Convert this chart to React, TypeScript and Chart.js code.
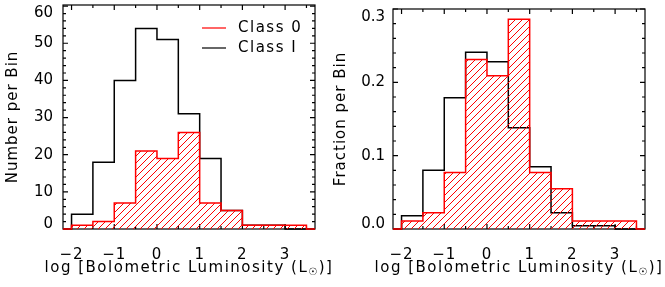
import React, { useEffect, useRef } from 'react';
import { Chart, registerables } from 'chart.js';

Chart.register(...registerables);

// ---- data ----
const binEdges = [-2, -1.5, -1, -0.5, 0, 0.5, 1, 1.5, 2, 2.5, 3, 3.5];
const class0Counts = [1, 2, 7, 21, 19, 26, 7, 5, 1, 1, 1];
const class1Counts = [4, 18, 40, 54, 51, 31, 19, 5, 1, 1, 0];
const class0Fractions = [0.011, 0.022, 0.077, 0.231, 0.209, 0.286, 0.077, 0.055, 0.011, 0.011, 0.011];
const class1Fractions = [0.018, 0.08, 0.179, 0.241, 0.228, 0.138, 0.085, 0.022, 0.0045, 0.0045, 0];
const xTickValues = [-2, -1, 0, 1, 2, 3];
const xMinorTickValues = [-1.5, -0.5, 0.5, 1.5, 2.5, 3.5];
const countTickValues = [0, 10, 20, 30, 40, 50, 60];
const fractionTickValues = [0, 0.1, 0.2, 0.3];
const legendLabels = ['Class 0', 'Class I'];
const xTitleParts = ['log [Bolometric Luminosity (L', '\u2609', ')]'];
const countTitle = 'Number per Bin';
const fractionTitle = 'Fraction per Bin';

const FONT = '"DejaVu Sans", "Liberation Sans", sans-serif';
const X_MIN = -2.2;
const X_MAX = 3.7;
const RED = '#ff0000';

function stepPoints(values: number[]) {
  const pts: { x: number; y: number }[] = [{ x: X_MIN, y: 0 }];
  values.forEach((v, i) => pts.push({ x: binEdges[i], y: v }));
  pts.push({ x: binEdges[binEdges.length - 1], y: 0 });
  pts.push({ x: X_MAX, y: 0 });
  return pts;
}

const idlFrame = {
  id: 'idlFrame',
  beforeDraw(chart: any) {
    (chart.ctx as any).letterSpacing = '1px';
  },
  beforeDatasetsDraw(chart: any, _args: any, opts: any) {
    const { ctx, chartArea: a, scales } = chart;
    const x = scales.x;
    const y = scales.y;
    ctx.save();
    ctx.strokeStyle = '#000';
    ctx.lineWidth = 1.2;
    ctx.strokeRect(a.left, a.top, a.right - a.left, a.bottom - a.top);
    ctx.beginPath();
    const vt = (px: number, len: number) => {
      ctx.moveTo(px, a.bottom);
      ctx.lineTo(px, a.bottom - len);
      ctx.moveTo(px, a.top);
      ctx.lineTo(px, a.top + len);
    };
    const ht = (py: number, len: number) => {
      ctx.moveTo(a.left, py);
      ctx.lineTo(a.left + len, py);
      ctx.moveTo(a.right, py);
      ctx.lineTo(a.right - len, py);
    };
    xTickValues.forEach((v) => vt(x.getPixelForValue(v), 5));
    xMinorTickValues.forEach((v) => {
      if (v < X_MAX) vt(x.getPixelForValue(v), 3);
    });
    const majors: number[] = opts.yTicks;
    majors.forEach((v) => ht(y.getPixelForValue(v), 5));
    const step = opts.minorStep;
    for (let k = 0; k * step <= y.max + 1e-9; k++) {
      const v = k * step;
      if (majors.some((m) => Math.abs(m - v) < 1e-9)) continue;
      ht(y.getPixelForValue(v), 3);
    }
    ctx.stroke();
    ctx.restore();
  },
  beforeDatasetDraw(chart: any, args: any) {
    if (args.index !== 0) return;
    const { ctx, chartArea: a, scales } = chart;
    const pts = chart.getDatasetMeta(0).data;
    if (!pts.length) return;
    const base = scales.y.getPixelForValue(0);
    ctx.save();
    ctx.beginPath();
    ctx.moveTo(pts[0].x, base);
    for (let i = 1; i < pts.length; i++) {
      ctx.lineTo(pts[i].x, pts[i - 1].y);
      ctx.lineTo(pts[i].x, pts[i].y);
    }
    ctx.lineTo(pts[pts.length - 1].x, base);
    ctx.closePath();
    ctx.clip();
    ctx.strokeStyle = RED;
    ctx.lineWidth = 1;
    const h = a.bottom - a.top;
    ctx.beginPath();
    for (let c = a.left - h; c < a.right + h; c += 7) {
      ctx.moveTo(c, a.bottom);
      ctx.lineTo(c + h, a.top);
    }
    ctx.stroke();
    ctx.restore();
  },
  afterDraw(chart: any, _args: any, opts: any) {
    const { ctx, chartArea: a, scales } = chart;
    const big = '15px ' + FONT;
    const small = '10px ' + FONT;
    ctx.save();
    ctx.fillStyle = '#000';

    // y tick labels (kept inside the frame's vertical extent, as in the reference)
    (ctx as any).letterSpacing = '0px';
    ctx.font = big;
    ctx.textAlign = 'right';
    ctx.textBaseline = 'middle';
    (opts.yTicks as number[]).forEach((v) => {
      let py = scales.y.getPixelForValue(v);
      py = Math.max(a.top + 8, Math.min(a.bottom - 4.5, py));
      ctx.fillText(v.toFixed(opts.decimals), a.left - opts.yLabelPad, py);
    });

    // x title with subscript sun symbol
    (ctx as any).letterSpacing = '1.5px';
    ctx.font = big;
    const w0 = ctx.measureText(xTitleParts[0]).width;
    const w2 = ctx.measureText(xTitleParts[2]).width;
    ctx.font = small;
    const w1 = ctx.measureText(xTitleParts[1]).width;
    const total = w0 + w1 + w2;
    let sx = (a.left + a.right) / 2 - total / 2;
    ctx.textBaseline = 'alphabetic';
    ctx.textAlign = 'left';
    ctx.font = big;
    ctx.fillText(xTitleParts[0], sx, 272);
    sx += w0;
    ctx.font = small;
    ctx.fillText(xTitleParts[1], sx, 275);
    sx += w1;
    ctx.font = big;
    ctx.fillText(xTitleParts[2], sx, 272);

    if (opts.legend) {
      const rows = [
        { label: legendLabels[0], color: RED, y: 28 },
        { label: legendLabels[1], color: '#000', y: 48 },
      ];
      rows.forEach((r) => {
        ctx.strokeStyle = r.color;
        ctx.lineWidth = 1.2;
        ctx.beginPath();
        ctx.moveTo(202, r.y);
        ctx.lineTo(226, r.y);
        ctx.stroke();
        ctx.font = big;
        ctx.textBaseline = 'middle';
        ctx.fillStyle = '#000';
        ctx.fillText(r.label, 238, r.y);
      });
    }
    ctx.restore();
    (ctx as any).letterSpacing = '0px';
  },
};

type PanelProps = {
  width: number;
  red: number[];
  black: number[];
  yMax: number;
  yTicks: number[];
  minorStep: number;
  decimals: number;
  yTitle: string;
  padTop: number;
  padRight: number;
  yAxisWidth: number;
  yLabelPad: number;
  yTitlePad: number;
  legend: boolean;
};

function Panel(p: PanelProps) {
  const ref = useRef<HTMLCanvasElement | null>(null);
  useEffect(() => {
    if (!ref.current) return;
    const chart = new Chart(ref.current, {
      type: 'line',
      data: {
        datasets: [
          {
            label: legendLabels[0],
            data: stepPoints(p.red),
            stepped: true,
            borderColor: RED,
            borderWidth: 1.5,
            fill: false,
            pointRadius: 0,
            clip: 4,
          } as any,
          {
            label: legendLabels[1],
            data: stepPoints(p.black),
            stepped: true,
            borderColor: '#000',
            borderWidth: 1.5,
            fill: false,
            pointRadius: 0,
            clip: 4,
          } as any,
        ],
      },
      options: {
        responsive: false,
        animation: false,
        events: [],
        layout: { padding: { top: p.padTop, right: p.padRight, left: 0, bottom: 0 } },
        plugins: {
          legend: { display: false },
          tooltip: { enabled: false },
          idlFrame: {
            yTicks: p.yTicks,
            minorStep: p.minorStep,
            legend: p.legend,
            decimals: p.decimals,
            yLabelPad: p.yLabelPad,
          },
        } as any,
        scales: {
          x: {
            type: 'linear',
            min: X_MIN,
            max: X_MAX,
            grid: { display: false, drawTicks: false },
            border: { display: false },
            afterBuildTicks: (s: any) => {
              s.ticks = xTickValues.map((v) => ({ value: v }));
            },
            afterFit: (s: any) => {
              s.height = 58;
              s.paddingLeft = 0;
              s.paddingRight = 0;
              s.paddingTop = 0;
              s.paddingBottom = 0;
            },
            ticks: {
              padding: 17,
              color: '#000',
              font: { family: FONT, size: 15 },
              maxRotation: 0,
              autoSkip: false,
              callback: (v: any) => String(v).replace('-', '\u2212'),
            },
          },
          y: {
            type: 'linear',
            min: 0,
            max: p.yMax,
            grid: { display: false, drawTicks: false },
            border: { display: false },
            afterBuildTicks: (s: any) => {
              s.ticks = p.yTicks.map((v) => ({ value: v }));
            },
            afterFit: (s: any) => {
              s.width = p.yAxisWidth;
              s.paddingLeft = 0;
              s.paddingRight = 0;
              s.paddingTop = 0;
              s.paddingBottom = 0;
            },
            ticks: { display: false },
            title: {
              display: true,
              text: p.yTitle,
              color: '#000',
              font: { family: FONT, size: 15 },
              padding: { top: p.yTitlePad, bottom: 0 },
            },
          },
        },
      } as any,
      plugins: [idlFrame as any],
    });
    return () => chart.destroy();
  }, []);
  return <canvas ref={ref} width={p.width} height={287} style={{ display: 'block' }} />;
}

export default function App() {
  useEffect(() => {
    document.body.style.margin = '0';
  }, []);
  return (
    <div style={{ display: 'flex', width: 665, height: 287, background: '#fff' }}>
      <Panel
        width={332}
        red={class0Counts}
        black={class1Counts}
        yMax={60.3}
        yTicks={countTickValues}
        minorStep={2}
        decimals={0}
        yTitle={countTitle}
        padTop={5}
        padRight={17}
        yAxisWidth={63}
        yLabelPad={10}
        yTitlePad={4}
        legend={true}
      />
      <Panel
        width={333}
        red={class0Fractions}
        black={class1Fractions}
        yMax={0.3}
        yTicks={fractionTickValues}
        minorStep={0.02}
        decimals={1}
        yTitle={fractionTitle}
        padTop={9}
        padRight={20}
        yAxisWidth={61}
        yLabelPad={8}
        yTitlePad={0}
        legend={false}
      />
    </div>
  );
}
